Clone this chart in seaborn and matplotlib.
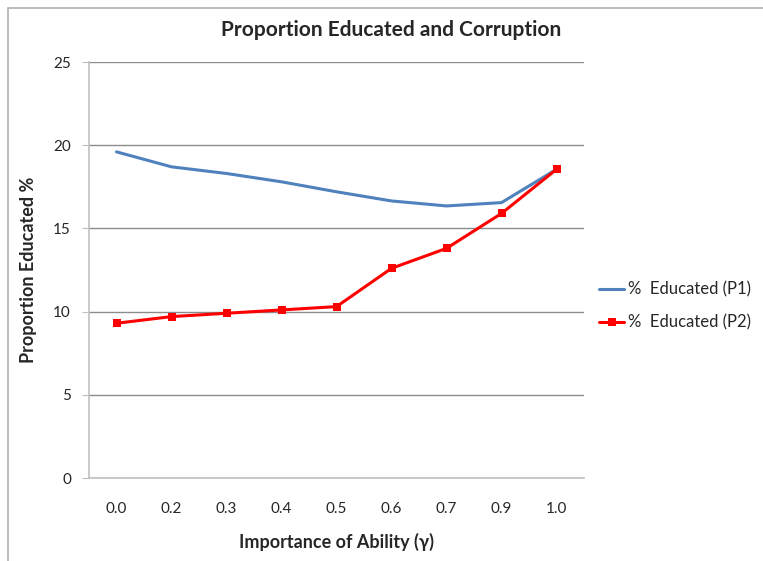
import matplotlib
matplotlib.use('Agg')
import matplotlib.pyplot as plt
import matplotlib.patches as mpatches
import pandas as pd
import seaborn as sns

# values
gamma = ['0.0', '0.2', '0.3', '0.4', '0.5', '0.6', '0.7', '0.9', '1.0']
p1 = [19.6, 18.7, 18.3, 17.8, 17.2, 16.65, 16.35, 16.55, 18.55]
p2 = [9.3, 9.7, 9.9, 10.1, 10.3, 12.6, 13.8, 15.9, 18.55]

df = pd.DataFrame({'gamma': gamma, 'P1': p1, 'P2': p2})

sns.set_style('white')
plt.rcParams['font.family'] = ['Lato', 'DejaVu Sans']

fig = plt.figure(figsize=(7.63, 5.61), dpi=100)
ax = fig.add_axes([89 / 763, 1 - 478 / 561, 495 / 763, 416 / 561])

# outer chart border like the spreadsheet frame
fig.patches.append(mpatches.Rectangle((8 / 763, -0.1), 1.1, 1 - 8 / 561 + 0.1,
                                      transform=fig.transFigure, fill=False,
                                      edgecolor='#b0b0b0', linewidth=1.2))

sns.lineplot(data=df, x='gamma', y='P1', ax=ax, color='#4f81bd', linewidth=2.2,
             label='%  Educated (P1)', sort=False)
sns.lineplot(data=df, x='gamma', y='P2', ax=ax, color='#ff0000', linewidth=2.2,
             marker='s', markersize=5.5, markeredgewidth=0,
             label='%  Educated (P2)', sort=False)

ax.set_xlim(-0.5, 8.5)
ax.set_ylim(0, 25)
ax.set_yticks([0, 5, 10, 15, 20, 25])
ax.yaxis.grid(True, color='#8c8c8c', linewidth=1)
ax.set_axisbelow(True)
for s in ['top', 'right']:
    ax.spines[s].set_visible(False)
ax.spines['left'].set_color('#c0c0c0')
ax.spines['bottom'].set_color('#c0c0c0')
ax.spines['left'].set_linewidth(1.2)
ax.spines['bottom'].set_linewidth(1.2)
ax.tick_params(axis='y', left=True, length=5, color='#c0c0c0', labelsize=11, pad=8)
ax.tick_params(axis='x', bottom=False, labelsize=11, pad=14)

ax.set_xlabel('Importance of Ability (γ)', fontsize=13, fontweight='bold', labelpad=12)
ax.set_ylabel('Proportion Educated %', fontsize=13, fontweight='bold', labelpad=12)
fig.text(391 / 763, 1 - 30 / 561, 'Proportion Educated and Corruption',
         ha='center', va='center', fontsize=15, fontweight='bold')

handles, labels = ax.get_legend_handles_labels()
ax.get_legend().remove()
fig.legend(handles, labels, loc='center left', bbox_to_anchor=(596 / 763, 1 - 306 / 561),
           frameon=False, fontsize=12, handlelength=1.5, handletextpad=0.25,
           labelspacing=1.0, borderaxespad=0, borderpad=0.2)

fig.savefig('out.png', dpi=100)
